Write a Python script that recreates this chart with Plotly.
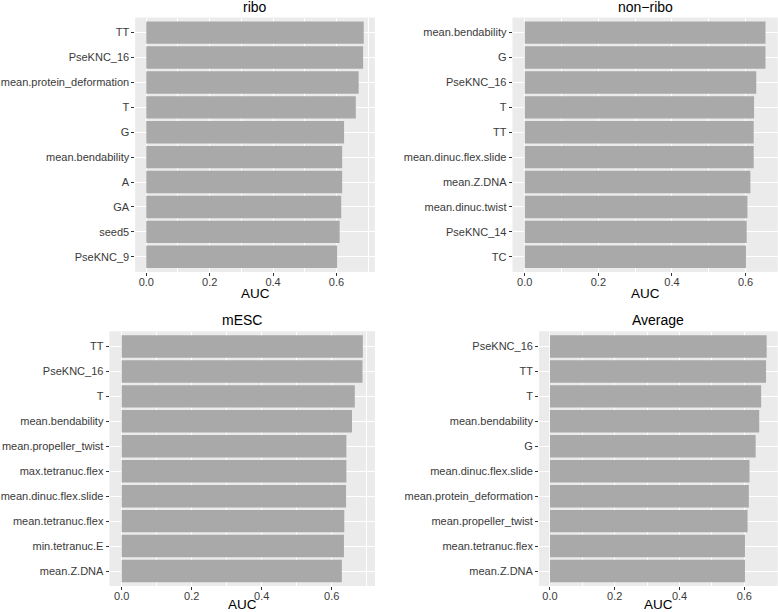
import plotly.graph_objects as go

W, H = 778, 612

ribo_labels = ["TT", "PseKNC_16", "mean.protein_deformation", "T", "G",
               "mean.bendability", "A", "GA", "seed5", "PseKNC_9"]
ribo_auc = [0.686, 0.684, 0.670, 0.661, 0.624, 0.618, 0.618, 0.615, 0.610, 0.602]

nonribo_labels = ["mean.bendability", "G", "PseKNC_16", "T", "TT",
                  "mean.dinuc.flex.slide", "mean.Z.DNA", "mean.dinuc.twist",
                  "PseKNC_14", "TC"]
nonribo_auc = [0.654, 0.654, 0.629, 0.623, 0.622, 0.622, 0.613, 0.605, 0.603, 0.601]

mesc_labels = ["TT", "PseKNC_16", "T", "mean.bendability", "mean.propeller_twist",
               "max.tetranuc.flex", "mean.dinuc.flex.slide", "mean.tetranuc.flex",
               "min.tetranuc.E", "mean.Z.DNA"]
mesc_auc = [0.689, 0.688, 0.666, 0.658, 0.642, 0.642, 0.641, 0.636, 0.635, 0.629]

avg_labels = ["PseKNC_16", "TT", "T", "mean.bendability", "G",
              "mean.dinuc.flex.slide", "mean.protein_deformation",
              "mean.propeller_twist", "mean.tetranuc.flex", "mean.Z.DNA"]
avg_auc = [0.669, 0.667, 0.652, 0.646, 0.635, 0.616, 0.614, 0.610, 0.602, 0.602]

tick_vals = [0.0, 0.2, 0.4, 0.6]
tick_text = ["0.0", "0.2", "0.4", "0.6"]

panels = [
    ("ribo", ribo_labels, ribo_auc, (135.4, 374.6), (17.7, 271.7), 6.7, 293.5),
    ("non\u2212ribo", nonribo_labels, nonribo_auc, (512.7, 777.5), (17.7, 271.7), 6.7, 293.5),
    ("mESC", mesc_labels, mesc_auc, (109.6, 374.9), (331.5, 586.0), 319.5, 604.0),
    ("Average", avg_labels, avg_auc, (539.1, 777.5), (331.5, 586.0), 319.5, 604.0),
]

FONT = "Liberation Sans, Arial, Helvetica, sans-serif"
fig = go.Figure()
annotations = []
layout_axes = {}
shapes = []

for i, (title, labels, vals, (x0, x1), (y0, y1), ty, ay) in enumerate(panels):
    k = "" if i == 0 else str(i + 1)
    fig.add_trace(go.Bar(
        x=vals, y=labels, orientation="h",
        marker=dict(color="#A9A9A9", line=dict(width=0)),
        width=0.9, xaxis="x" + k, yaxis="y" + k, showlegend=False,
        hoverinfo="x+y",
    ))
    m = max(vals)
    layout_axes["xaxis" + k] = dict(
        domain=[x0 / W, x1 / W], anchor="y" + k,
        range=[-0.05 * m, 1.05 * m],
        tickmode="array", tickvals=tick_vals, ticktext=tick_text,
        ticks="outside", ticklen=3, tickwidth=1, tickcolor="#333333",
        ticklabelstandoff=-3,
        tickfont=dict(size=11, color="#3A3A3A", family=FONT),
        showgrid=True, gridcolor="white", gridwidth=1.1,
        minor=dict(tickmode="array", tickvals=[0.1, 0.3, 0.5, 0.7],
                   showgrid=True, gridcolor="white", gridwidth=0.5, ticks=""),
        zeroline=False, showline=False, fixedrange=True,
    )
    n = len(labels)
    layout_axes["yaxis" + k] = dict(
        domain=[1 - y1 / H, 1 - y0 / H], anchor="x" + k,
        type="category", categoryorder="array", categoryarray=labels,
        range=[n - 1 + 0.6, -0.6],
        ticks="outside", ticklen=3, tickwidth=1, tickcolor="#333333",
        tickfont=dict(size=11, color="#3A3A3A", family=FONT),
        showgrid=True, gridcolor="white", gridwidth=1.1,
        zeroline=False, showline=False, fixedrange=True,
    )
    cx = (x0 + x1) / 2 / W
    annotations.append(dict(text=title, x=cx, y=1 - ty / H, xref="paper", yref="paper",
                            showarrow=False, xanchor="center", yanchor="middle",
                            font=dict(size=14, color="black", family=FONT)))
    annotations.append(dict(text="AUC", x=cx, y=1 - ay / H, xref="paper", yref="paper",
                            showarrow=False, xanchor="center", yanchor="middle",
                            font=dict(size=13.5, color="black", family=FONT)))
    shapes.append(dict(type="rect", xref="paper", yref="paper",
                       x0=x0 / W, x1=x1 / W, y0=1 - y1 / H, y1=1 - y0 / H,
                       fillcolor="#EBEBEB", line=dict(width=0), layer="below"))

fig.update_layout(
    width=W, height=H,
    margin=dict(l=0, r=0, t=0, b=0),
    paper_bgcolor="white", plot_bgcolor="#EBEBEB",
    annotations=annotations, shapes=shapes,
    bargap=0.1, showlegend=False,
    font=dict(family=FONT),
    **layout_axes,
)

fig.write_html("out.html",
               config={"displayModeBar": False},
               post_script="document.body.style.margin='0';document.body.style.padding='0';")
